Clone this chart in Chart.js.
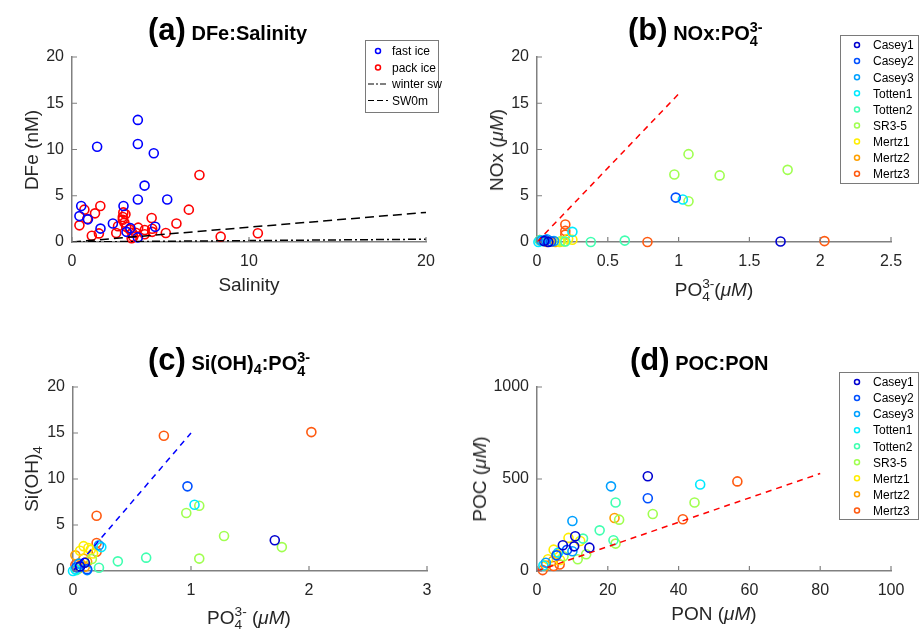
<!DOCTYPE html>
<html>
<head>
<meta charset="utf-8">
<script src="https://cdn.jsdelivr.net/npm/chart.js@4.4.1/dist/chart.umd.min.js"></script>
<style>
  body { margin: 0; width: 919px; height: 634px; position: relative; overflow: hidden; background: #fff;
         font-family: "Liberation Sans", Arial, Helvetica, sans-serif; color: #262626; }
  canvas { position: absolute; }
  .ttl { position: absolute; font-weight: bold; font-size: 20px; line-height: 36px; white-space: nowrap; color: #000; }
  .ttl .big { font-size: 31px; }
  .ax { position: absolute; font-size: 19px; white-space: nowrap; transform: translate(-50%, -50%); }
  .ax.rot { transform: translate(-50%, -50%) rotate(-90deg); }
  .ss { display: inline-flex; flex-direction: column; font-size: 0.72em; line-height: 0.95em; vertical-align: 0.55em; }
  .sb { font-size: 0.72em; vertical-align: -0.3em; line-height: 0; }
</style>
</head>
<body>
<canvas id="ca"></canvas>
<canvas id="cb"></canvas>
<canvas id="cc"></canvas>
<canvas id="cd"></canvas>

<div class="ttl" style="left:148px;top:12px"><span class="big">(a)</span> DFe:Salinity</div>
<div class="ttl" style="left:628px;top:12px"><span class="big">(b)</span> NOx:PO<span class="ss"><span>3-</span><span>4</span></span></div>
<div class="ttl" style="left:148px;top:342px"><span class="big">(c)</span> Si(OH)<span class="sb">4</span>:PO<span class="ss"><span>3-</span><span>4</span></span></div>
<div class="ttl" style="left:630px;top:342px"><span class="big">(d)</span> POC:PON</div>

<div class="ax rot" style="left:32px;top:150px">DFe (nM)</div>
<div class="ax" style="left:249px;top:285px">Salinity</div>
<div class="ax rot" style="left:497px;top:150px">NOx (<i>μM</i>)</div>
<div class="ax" style="left:714px;top:290px">PO<span class="ss"><span>3-</span><span>4</span></span>(<i>μM</i>)</div>
<div class="ax rot" style="left:32px;top:479px">Si(OH)<span class="sb">4</span></div>
<div class="ax" style="left:249px;top:618px">PO<span class="ss"><span>3-</span><span>4</span></span> (<i>μM</i>)</div>
<div class="ax rot" style="left:480px;top:479px">POC (<i>μM</i>)</div>
<div class="ax" style="left:714px;top:614px">PON (<i>μM</i>)</div>

<script>
// ---- (a) DFe vs salinity ----
const fastSal = [3.72, 1.42, 3.72, 4.62, 4.1, 3.72, 5.38, 0.52, 2.91, 0.42, 0.9, 1.61, 2.31, 4.7, 3.08, 3.72, 3.3];
const fastDFe = [13.2, 10.3, 10.6, 9.6, 6.1, 4.6, 4.6, 3.9, 3.9, 2.8, 2.45, 1.45, 2.0, 1.65, 1.1, 0.5, 1.5];
const packSal = [7.2, 6.6, 5.9, 4.5, 5.3, 8.4, 10.5, 0.7, 1.6, 1.3, 0.42, 0.86, 1.12, 1.52, 2.5, 2.6,
                 2.87, 3.02, 2.87, 2.96, 3.06, 3.25, 3.4, 3.46, 3.37, 3.74, 4.11, 4.11, 4.53, 4.53, 3.6, 2.9];
const packDFe = [7.25, 3.5, 2.0, 2.6, 0.97, 0.58, 0.94, 3.5, 3.9, 3.1, 1.8, 2.5, 0.68, 0.93, 0.97, 1.7,
                 2.7, 3.0, 2.4, 2.1, 1.65, 1.37, 1.0, 0.58, 0.4, 1.55, 1.3, 0.83, 1.44, 1.1, 1.0, 3.2];
const winterSal = [0, 20];
const winterDFe = [0, 0.3];
const sw0Sal = [0, 20];
const sw0DFe = [0, 3.2];

// ---- stations used in (b), (c), (d) ----
const stations = ['Casey1', 'Casey2', 'Casey3', 'Totten1', 'Totten2', 'SR3-5', 'Mertz1', 'Mertz2', 'Mertz3'];
const stationColors = ['#0000d0', '#0050ff', '#00a0ff', '#00eaff', '#40ffb0', '#a0ff50', '#ffee00', '#ffa000', '#ff5a10'];

// (b) NOx vs PO4
const bPO4 = [
  [1.72, 0.05, 0.08],
  [0.98, 0.06, 0.10],
  [0.03, 0.12, 0.07],
  [1.03, 0.25, 0.01, 0.04],
  [0.38, 0.62, 0.20, 0.02],
  [1.07, 0.97, 1.29, 1.77, 1.07, 0.17],
  [0.25, 0.19, 0.22, 0.16],
  [0.07, 0.10, 0.13, 0.09, 0.05],
  [0.20, 0.20, 0.20, 0.02, 0.78, 2.03]
];
const bNOx = [
  [0.05, 0.1, 0.0],
  [4.8, 0.2, 0.05],
  [0.15, 0.1, 0.3],
  [4.6, 1.1, 0.0, 0.1],
  [0.0, 0.15, 0.05, 0.2],
  [9.5, 7.3, 7.2, 7.8, 4.4, 0.1],
  [0.25, 0.05, 0.35, 0.0],
  [0.0, 0.05, 0.0, 0.1, 0.15],
  [1.9, 1.2, 0.8, 0.2, 0.0, 0.1]
];
const bLineX = [0, 1];
const bLineY = [0, 16];

// (c) Si(OH)4 vs PO4
const cPO4 = [
  [1.71, 0.06, 0.10],
  [0.97, 0.03, 0.12],
  [0.12, 0.05, 0.22],
  [1.03, 0.24, 0.00, 0.02],
  [0.38, 0.62, 0.22, 0.03],
  [1.07, 0.96, 1.28, 1.77, 1.07, 0.16],
  [0.09, 0.13, 0.17, 0.15, 0.06],
  [0.02, 0.09, 0.10, 0.07, 0.12, 0.05],
  [0.77, 2.02, 0.20, 0.20, 0.20, 0.02]
];
const cSi = [
  [3.35, 0.5, 0.9],
  [9.2, 0.4, 0.2],
  [0.1, 0.8, 2.8],
  [7.2, 2.6, 0.0, 0.2],
  [1.05, 1.45, 0.35, 0.1],
  [7.1, 6.3, 3.8, 2.6, 1.35, 1.3],
  [2.7, 2.5, 1.9, 2.3, 2.2],
  [1.7, 1.35, 0.45, 0.7, 1.0, 0.3],
  [14.7, 15.1, 6.0, 3.05, 2.1, 0.65]
];
const cLineX = [0, 1];
const cLineY = [0, 15];

// (d) POC vs PON
const dPON = [
  [10.8, 7.3, 10.5, 14.8, 31.3],
  [31.3, 5.5, 8.5],
  [20.9, 10.0, 10.0, 2.5],
  [46.1, 6.0, 1.8],
  [22.2, 17.7, 21.6, 13.0],
  [44.5, 32.7, 23.2, 22.2, 13.9, 11.5, 7.5],
  [8.9, 12.2, 4.7, 3.1, 6.5],
  [21.9, 5.6, 4.5, 2.5],
  [56.6, 41.2, 6.4, 4.7, 1.6]
];
const dPOC = [
  [189, 140, 134, 127, 515],
  [395, 85, 115],
  [460, 272, 107, 45],
  [470, 100, 30],
  [372, 221, 167, 176],
  [372, 310, 279, 149, 91, 64, 80],
  [180, 163, 116, 64, 60],
  [288, 91, 55, 30],
  [487, 281, 35, 27, 5]
];
const dLineX = [0, 80];
const dLineY = [0, 530];

// ---- helpers ----
const zip = (xs, ys) => xs.map((x, i) => ({ x: x, y: ys[i] }));

function circles(label, color, xs, ys) {
  return {
    label: label, data: zip(xs, ys), borderColor: color, backgroundColor: 'rgba(0,0,0,0)',
    pointRadius: 4.5, pointBorderWidth: 1.6, pointHoverRadius: 4.5, showLine: false, clip: false
  };
}
function refLine(color, dash, xs, ys) {
  return {
    data: zip(xs, ys), borderColor: color, borderWidth: 1.5, borderDash: dash,
    pointRadius: 0, showLine: true, fill: false
  };
}
function stationSets(xs, ys) {
  return stations.map((s, i) => circles(s, stationColors[i], xs[i], ys[i]));
}

// ticks that point into the plot, like the original
const inTicks = {
  id: 'inTicks',
  afterDraw(chart) {
    const ctx = chart.ctx, a = chart.chartArea, sx = chart.scales.x, sy = chart.scales.y;
    ctx.save();
    ctx.strokeStyle = '#808080';
    ctx.lineWidth = 1.2;
    ctx.beginPath();
    sx.ticks.forEach(t => {
      const p = sx.getPixelForValue(t.value);
      ctx.moveTo(p, a.bottom); ctx.lineTo(p, a.bottom - 5);
    });
    sy.ticks.forEach(t => {
      const p = sy.getPixelForValue(t.value);
      ctx.moveTo(a.left, p); ctx.lineTo(a.left + 5, p);
    });
    ctx.stroke();
    ctx.restore();
  }
};

function legendPlugin(box, pos) {
  return {
    id: 'boxLegend',
    afterDatasetsDraw(chart) {
      if (!box.items.length) return;
      const ctx = chart.ctx;
      const x0 = box.x - pos.l, y0 = box.y - pos.t;
      ctx.save();
      ctx.fillStyle = '#fff';
      ctx.fillRect(x0, y0, box.w, box.h);
      ctx.strokeStyle = '#7a7a7a';
      ctx.lineWidth = 1;
      ctx.strokeRect(x0 + 0.5, y0 + 0.5, box.w, box.h);
      ctx.font = '12px "Liberation Sans", Arial, sans-serif';
      ctx.textBaseline = 'middle';
      box.items.forEach((it, i) => {
        const cy = y0 + box.first + i * box.gap;
        const mx = x0 + box.mx;
        ctx.strokeStyle = it.color;
        if (it.dash) {
          ctx.lineWidth = 1;
          ctx.setLineDash(it.dash);
          ctx.beginPath(); ctx.moveTo(mx - 10, cy); ctx.lineTo(mx + 10, cy); ctx.stroke();
          ctx.setLineDash([]);
        } else {
          ctx.lineWidth = 1.5;
          ctx.beginPath(); ctx.arc(mx, cy, 2.5, 0, Math.PI * 2); ctx.stroke();
        }
        ctx.fillStyle = '#000';
        ctx.fillText(it.label, x0 + box.tx, cy + 1);
      });
      ctx.restore();
    }
  };
}

const plainNum = v => String(parseFloat(Number(v).toFixed(3)));

function makeChart(id, pos, area, xs, ys, datasets, box) {
  const cv = document.getElementById(id);
  cv.style.left = pos.l + 'px';
  cv.style.top = pos.t + 'px';
  cv.width = pos.w;
  cv.height = pos.h;
  const tickFont = { family: '"Liberation Sans", Arial, sans-serif', size: 16 };
  return new Chart(cv, {
    type: 'scatter',
    data: { datasets: datasets },
    options: {
      responsive: false,
      animation: false,
      devicePixelRatio: 1,
      layout: { padding: { left: 0, top: area.t - pos.t, right: pos.l + pos.w - area.r, bottom: 0 } },
      plugins: { legend: { display: false }, tooltip: { enabled: false } },
      scales: {
        x: {
          type: 'linear', min: xs.min, max: xs.max,
          ticks: { stepSize: xs.step, font: tickFont, color: '#262626', padding: 10, maxRotation: 0, callback: plainNum },
          grid: { drawOnChartArea: false, drawTicks: false },
          border: { color: '#808080', width: 1.5 },
          afterFit(s) { s.height = pos.t + pos.h - area.b; }
        },
        y: {
          type: 'linear', min: ys.min, max: ys.max,
          ticks: { stepSize: ys.step, font: tickFont, color: '#262626', padding: 8, callback: plainNum },
          grid: { drawOnChartArea: false, drawTicks: false },
          border: { color: '#808080', width: 1.5 },
          afterFit(s) { s.width = area.l - pos.l; }
        }
      }
    },
    plugins: [inTicks, legendPlugin(box, pos)]
  });
}

const stationItems = stations.map((s, i) => ({ label: s, color: stationColors[i] }));

// (a)
makeChart('ca', { l: 0, t: 0, w: 460, h: 317 }, { l: 72, t: 57, r: 426, b: 242 },
  { min: 0, max: 20, step: 10 }, { min: 0, max: 20, step: 5 },
  [
    refLine('#000', [8, 3, 2, 3], winterSal, winterDFe),
    refLine('#000', [9, 5], sw0Sal, sw0DFe),
    circles('fast ice', '#0000ff', fastSal, fastDFe),
    circles('pack ice', '#ff0000', packSal, packDFe)
  ],
  { x: 365, y: 40, w: 73, h: 72, first: 11, gap: 16.5, mx: 13, tx: 27,
    items: [
      { label: 'fast ice', color: '#0000ff' },
      { label: 'pack ice', color: '#ff0000' },
      { label: 'winter sw', color: '#000', dash: [6, 2, 2, 2] },
      { label: 'SW0m', color: '#000', dash: [6, 3] }
    ] });

// (b)
makeChart('cb', { l: 460, t: 0, w: 459, h: 317 }, { l: 537, t: 57, r: 891, b: 242 },
  { min: 0, max: 2.5, step: 0.5 }, { min: 0, max: 20, step: 5 },
  [refLine('#ff0000', [6, 5], bLineX, bLineY)].concat(stationSets(bPO4, bNOx)),
  { x: 840, y: 35, w: 78, h: 148, first: 10, gap: 16.1, mx: 17, tx: 33, items: stationItems });

// (c)
makeChart('cc', { l: 0, t: 317, w: 460, h: 317 }, { l: 73, t: 387, r: 427, b: 571 },
  { min: 0, max: 3, step: 1 }, { min: 0, max: 20, step: 5 },
  [refLine('#0000ff', [6, 5], cLineX, cLineY)].concat(stationSets(cPO4, cSi)),
  { x: 0, y: 0, w: 0, h: 0, first: 0, gap: 0, mx: 0, tx: 0, items: [] });

// (d)
makeChart('cd', { l: 460, t: 317, w: 459, h: 317 }, { l: 537, t: 387, r: 891, b: 571 },
  { min: 0, max: 100, step: 20 }, { min: 0, max: 1000, step: 500 },
  [refLine('#ff0000', [6, 5], dLineX, dLineY)].concat(stationSets(dPON, dPOC)),
  { x: 839, y: 372, w: 79, h: 147, first: 10, gap: 16.05, mx: 18, tx: 34, items: stationItems });
</script>
</body>
</html>
